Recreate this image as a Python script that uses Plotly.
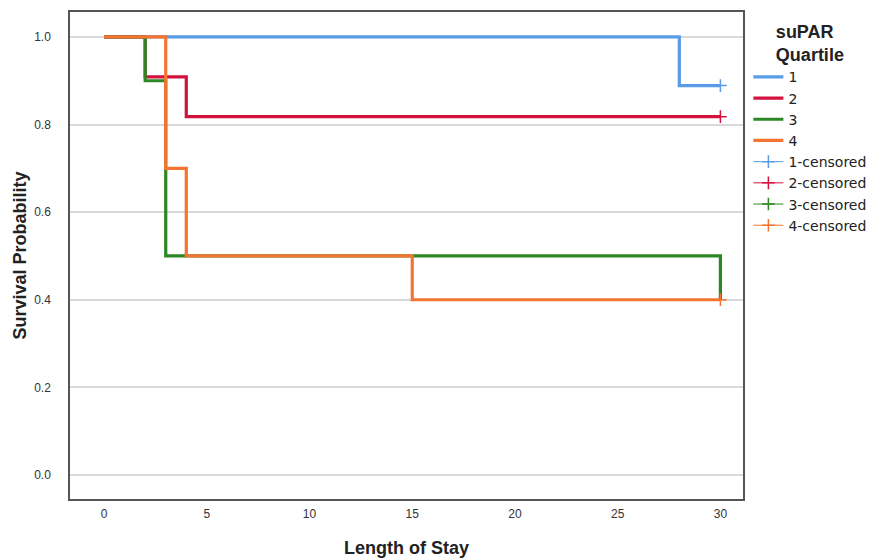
import plotly.graph_objects as go

groups = ["1", "2", "3", "4"]
colors = ["#5A9BE6", "#D4123E", "#2C8724", "#F47432"]
times = [
    [0, 28, 30],
    [0, 2, 4, 30],
    [0, 2, 3, 30, 30],
    [0, 3, 4, 15, 30],
]
surv = [
    [1.0, 0.889, 0.889],
    [1.0, 0.909, 0.818, 0.818],
    [1.0, 0.9, 0.5, 0.5, 0.4],
    [1.0, 0.7, 0.5, 0.4, 0.4],
]
cens_time = [[30], [30], [], [30]]
cens_surv = [[0.889], [0.818], [], [0.4]]

fig = go.Figure()
for g, c, t, s in zip(groups, colors, times, surv):
    fig.add_trace(go.Scatter(x=t, y=s, mode="lines", name=g,
                             line=dict(color=c, width=3.2, shape="hv")))
for g, c, t, s in zip(groups, colors, cens_time, cens_surv):
    fig.add_trace(go.Scatter(x=t if t else [None], y=s if s else [None],
                             mode="lines+markers", name=g + "-censored",
                             line=dict(color=c, width=1),
                             marker=dict(symbol="cross-thin", size=9,
                                         line=dict(color=c, width=1.5))))

fig.update_layout(
    width=869, height=559,
    margin=dict(l=70, r=126, t=12, b=60, autoexpand=False),
    plot_bgcolor="white", paper_bgcolor="white",
    font=dict(family="Liberation Sans, Arial, sans-serif", color="#222"),
    legend=dict(
        title=dict(text="<b>suPAR<br>Quartile</b>",
                   font=dict(size=18, family="Liberation Sans, Arial, sans-serif"),
                   side="top center"),
        x=1.008, xanchor="left", y=0.995, yanchor="top",
        bgcolor="rgba(0,0,0,0)",
        font=dict(size=14, family="DejaVu Sans, sans-serif"), tracegroupgap=0, itemwidth=30,
    ),
    showlegend=True,
)
fig.update_xaxes(
    range=[-1.66, 31.1], tickvals=[0, 5, 10, 15, 20, 25, 30],
    showgrid=False, zeroline=False, showline=True, linecolor="#555", linewidth=1.5,
    mirror=True, ticks="", ticklabelstandoff=3,
    tickfont=dict(size=12, color="#333"),
    title=dict(text="<b>Length of Stay</b>", font=dict(size=18), standoff=21),
)
fig.update_yaxes(
    range=[-0.055, 1.057], tickvals=[0, 0.2, 0.4, 0.6, 0.8, 1.0],
    tickformat=".1f",
    showgrid=True, gridcolor="#D9D9D9", gridwidth=1.5, zeroline=False,
    showline=True, linecolor="#555", linewidth=1.5, mirror=True, ticks="",
    ticklabelstandoff=15, tickfont=dict(size=12, color="#333"),
    title=dict(text="<b>Survival Probability</b>", font=dict(size=18), standoff=3),
)
fig.write_html("out.html", post_script="document.body.style.margin='0';",
               config={"displayModeBar": False})
